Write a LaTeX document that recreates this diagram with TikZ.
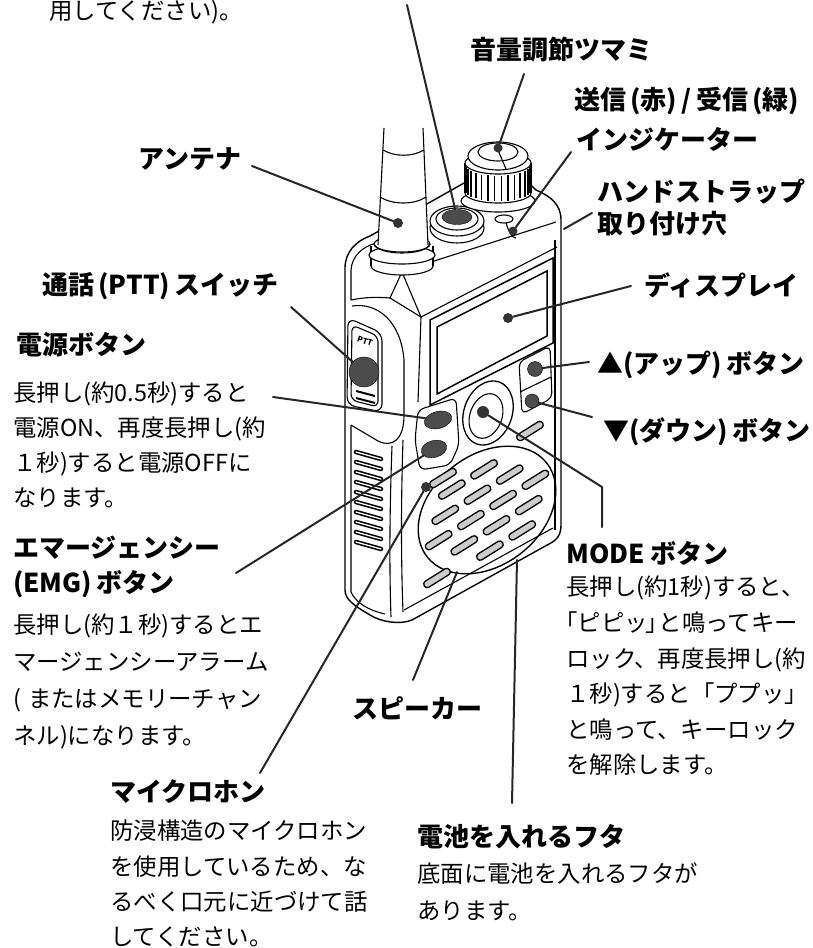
\documentclass[tikz,border=0pt]{standalone}
\usepackage{fontspec}
\setmainfont{Noto Sans CJK JP}
\usetikzlibrary{shapes.geometric}

\tikzset{
  lbl/.style={anchor=north west, inner sep=0pt, align=left,
    font=\fontsize{26}{35}\selectfont\bfseries},
  note/.style={anchor=north west, inner sep=0pt, align=left,
    font=\fontsize{23.4}{36.5}\selectfont},
  lead/.style={line width=2pt, black!85, line cap=round},
  tipdot/.style={circle, fill=black!80, inner sep=0pt, minimum size=10pt},
  btn/.style={fill=black!70, draw=black, inner sep=0pt},
  outl/.style={draw=black, line width=1.1pt},
  part/.style={draw=black, line width=1.1pt, fill=white},
  grilleslot/.style={draw=black, line width=1.3pt, fill=black!20, rounded corners=3.3pt},
  sideslot/.style={line width=1.6pt, double=white, double distance=1.3pt, line cap=round},
}

\begin{document}
\begin{tikzpicture}[x=1pt, y=-1pt]
    \useasboundingbox (0,0) rectangle (812,948);
    % radio body outline
    \draw[outl, line width=1.4pt] (345,590) -- (345,268)
       .. controls (345,252) and (356,241) .. (370,236)
       -- (505,160) -- (536,190)
       .. controls (550,196) and (561,204) .. (561,220)
       -- (561,525)
       .. controls (561,535) and (557,540) .. (549,544)
       -- (412,620)
       .. controls (400,625) and (381,622) .. (370,615)
       .. controls (355,606) and (345,600) .. (345,590) -- cycle;
    \draw[outl] (351,300) -- (351,270) .. controls (352,256) and (362,247) .. (376,243);
    \draw[outl] (351,425) -- (351,592) .. controls (356,603) and (368,610) .. (385,614);
    \draw[outl] (555,240) -- (555,530);
    \draw[outl] (404,610) -- (553,528);
    \draw[outl] (392,446) .. controls (390,500) and (389,560) .. (391,617);
    \draw[outl] (403,440) .. controls (401,500) and (401,560) .. (403,612);
    % top face and bevel
    \draw[outl] (431,262) -- (556,222);
    \draw[outl] (402,272) -- (390,298) -- (421,317) -- cycle;
    \draw[outl] (351,300) .. controls (365,297) and (378,297) .. (390,298);
    \draw[outl] (421,317) -- (557,247);
    \draw[outl] (421,317) -- (418,402);
    % PTT side
    \draw[outl] (352,306) .. controls (378,302) and (401,322) .. (404,360)
       -- (404,415) .. controls (404,440) and (392,448) .. (378,441) -- (351,425);
    \draw[part, rounded corners=8pt] (348,318) -- (382,333) -- (382,412) -- (347,405) -- cycle;
    \draw[outl, rounded corners=6pt] (352,325) -- (378,336) -- (378,407) -- (351,400) -- cycle;
    \node[font=\fontsize{8}{8}\selectfont\bfseries, rotate=-18, inner sep=0pt] (pttTxt) at (365,341) {PTT};
    \node[btn, circle, minimum size=30pt] (pttDial) at (364,372) {};
    \draw[line width=2pt] (356,391) -- (375,396) (356,398) -- (375,403);
    \foreach \i in {0,...,9}
       \draw[sideslot] (356,{452+10*\i}) -- (381,{459+10*\i});
    % antenna
    \draw[part] (402,266) ellipse [x radius=31, y radius=9];
    \fill[white] (371,246) rectangle (433,266);
    \draw[outl] (371,246) -- (371,266) (433,246) -- (433,266);
    \draw[part] (402,255) ellipse [x radius=33, y radius=9];
    \draw[part] (402,244) ellipse [x radius=28, y radius=8];
    \fill[white] (384,128) -- (378,245) -- (428,245) -- (423,128) -- cycle;
    \draw[outl] (384,128) -- (378,245) (423,128) -- (428,245);
    \draw[outl] (383,150) .. controls (395,157) and (412,157) .. (424,150);
    \draw[outl] (380,197) .. controls (393,205) and (414,205) .. (426,197);
    \draw[outl] (374,244) .. controls (378,256) and (426,256) .. (430,244);
    \node[tipdot] (antDot) at (398,223) {};
    % jack
    \draw[part] (457,228) ellipse [x radius=27, y radius=15];
    \draw[part] (457,221) ellipse [x radius=27, y radius=15];
    \draw[outl] (457,219) ellipse [x radius=21, y radius=11];
    \node[btn, ellipse, minimum width=30pt, minimum height=15pt] (jackDot) at (457,217) {};
    % volume knob
    \draw[part] (498,201) ellipse [x radius=37, y radius=11];
    \draw[part] (498,193) ellipse [x radius=33, y radius=10];
    \fill[white] (465,163) rectangle (531,193);
    \draw[outl] (465,163) -- (465,193) (531,163) -- (531,193);
    \foreach \a in {12,24,...,168}
       \draw[line width=1.8pt] ({498+33*cos(\a)},{165+11*sin(\a)}) -- ({498+33*cos(\a)},{191+10*sin(\a)});
    \draw[part] (498,163) ellipse [x radius=33, y radius=11];
    \draw[part] (498,156) ellipse [x radius=30, y radius=14];
    \draw[outl] (498,152) ellipse [x radius=20, y radius=9];
    \draw[outl] (498,150) -- (506,169);
    \node[tipdot, minimum size=9pt] (knobDot) at (498,148) {};
    % indicator
    \draw[part] (504,219) ellipse [x radius=9, y radius=4];
    \draw[outl] (506,223) .. controls (509,232) and (512,238) .. (516,238);
    \node[tipdot, minimum size=9pt] (ledDot) at (513,231) {};
    % display
    \draw[outl, line width=1.5pt] (430,320) -- (553,258) -- (553,343) -- (430,405) -- cycle;
    \draw[outl, line width=1.5pt] (437,327) -- (547,271) -- (547,336) -- (437,394) -- cycle;
    \node[tipdot] (dispDot) at (508,318) {};
    % up / down keys
    \draw[outl, rounded corners=5pt] (519,362) -- (550,346) -- (552,398) -- (522,414) -- cycle;
    \draw[outl] (520,392) -- (551,377);
    \node[btn, circle, minimum size=15pt] (upBtn) at (535,369) {};
    \node[btn, circle, minimum size=14pt] (dnBtn) at (532,401) {};
    % MODE key
    \draw[outl, line width=1.3pt, rotate around={-20:(488,413)}] (488,413) ellipse [x radius=24, y radius=33];
    \draw[outl, rotate around={-20:(486,416)}] (486,416) ellipse [x radius=16, y radius=23];
    \node[tipdot, minimum size=12pt] (modeDot) at (483,412) {};
    % power / EMG keys
    \draw[part, rounded corners=6pt] (418,410) -- (456,398) -- (459,445) -- (450,465) -- (420,470) -- (415,440) -- cycle;
    \node[btn, ellipse, minimum width=28pt, minimum height=17pt, rotate=15] (pwrBtn) at (438,420) {};
    \node[btn, ellipse, minimum width=26pt, minimum height=17pt, rotate=15] (emgBtn) at (434,449) {};
    % speaker grille
    \draw[outl, line width=1.4pt, rotate around={38:(487,510)}] (487,510) ellipse [x radius=76, y radius=55];
    \begin{scope}[shift={(487,510)}, rotate=32]
       \foreach \sx/\sy in {-19/-36, 19/-36, -38/-18, 0/-18, 38/-18, -57/0, -19/0, 19/0, 57/0,
                            -38/18, 0/18, 38/18, -19/36, 19/36}
          \draw[grilleslot] ({\sx-15},{\sy-3.5}) rectangle ({\sx+15},{\sy+3.5});
    \end{scope}
    \foreach \px/\py in {530/431, 443/478, 437/578}{
       \begin{scope}[shift={(\px,\py)}, rotate=32]
          \draw[grilleslot] (-15,-3.5) rectangle (15,3.5);
       \end{scope}}
    \node[tipdot] (micDot) at (426,487) {};

    % labels
    \node[note] (topTxt) at (49,0.5) {用してください)。};
    \node[lbl] (lblKnob) at (470,37) {音量調節ツマミ};
    \node[lbl] (lblLed) at (574,87) {送信\,(赤)\,/\,受信\,(緑)};
    \node[lbl] (lblLed2) at (576,127) {インジケーター};
    \node[lbl] (lblAnt) at (138,147) {アンテナ};
    \node[lbl] (lblStrap) at (597,179) {ハンドストラップ};
    \node[lbl] (lblStrap2) at (597,211) {取り付け穴};
    \node[lbl] (lblPtt) at (42,272) {通話\,(PTT)\,スイッチ};
    \node[lbl] (lblDisp) at (644,272) {ディスプレイ};
    \node[lbl] (lblPwr) at (16,332) {電源ボタン};
    \node[note, font=\fontsize{23.4}{35}\selectfont] (txtPwr) at (13,382)
       {長押し(約0.5秒)すると\\電源ON、再度長押し(約\\１秒)すると電源OFFに\\なります。};
    \node[lbl] (lblUp) at (597,351) {▲(アップ)\,ボタン};
    \node[lbl] (lblDn) at (603,417) {▼(ダウン)\,ボタン};
    \node[lbl] (lblMode) at (566,541) {MODE ボタン};
    \node[note, font=\fontsize{23.4}{35.6}\selectfont] (txtMode) at (566,576)
       {長押し(約1秒)すると、\\\hspace*{-0.5em}「ピピッ\hspace{-0.1em}」\hspace{-0.45em}と鳴ってキー\\ロック、再度長押し(約\\１秒)すると「ププッ」\\と鳴って、キーロック\\を解除します。};
    \node[lbl] (lblEmg) at (13,536) {エマージェンシー\\(EMG)\,ボタン};
    \node[note, font=\fontsize{23.4}{37}\selectfont] (txtEmg) at (13,614)
       {長押し(約１秒)するとエ\\マージェンシーアラーム\\(\hspace{0.3em}またはメモリーチャン\\ネル)になります。};
    \node[lbl] (lblSpk) at (352,696) {スピーカー};
    \node[lbl] (lblMic) at (110,779) {マイクロホン};
    \node[note, font=\fontsize{23.4}{35.2}\selectfont] (txtMic) at (110,820)
       {防浸構造のマイクロホン\\を使用しているため、な\\るべく口元に近づけて話\\してください。};
    \node[lbl] (lblBat) at (417,824) {電池を入れるフタ};
    \node[note, font=\fontsize{23.4}{37}\selectfont] (txtBat) at (417,862)
       {底面に電池を入れるフタが\\あります。};

    % leader lines
    \coordinate (jackS) at (407,5);
    \coordinate (knobS) at (524,74);
    \coordinate (ledS) at (571,152);
    \coordinate (antS) at (252,166);
    \coordinate (strapS) at (592,213);
    \coordinate (strapE) at (564,229);
    \coordinate (pttS) at (291,307);
    \coordinate (dispS) at (631,286);
    \coordinate (pwrS) at (273,397);
    \coordinate (upS) at (589,362);
    \coordinate (dnS) at (592,417);
    \coordinate (modeBend) at (602,487);
    \coordinate (modeS) at (602,527);
    \coordinate (emgS) at (236,573);
    \coordinate (micS) at (260,773);
    \coordinate (spkS) at (413,680);
    \coordinate (spkE) at (457,572);
    \coordinate (batS) at (512,803);
    \coordinate (batE) at (517,560);
    \draw[lead] (jackS) -- (jackDot);
    \draw[lead] (knobS) -- (knobDot);
    \draw[lead] (ledS) -- (ledDot);
    \draw[lead] (antS) -- (antDot);
    \draw[lead] (strapS) -- (strapE);
    \draw[lead] (pttS) -- (pttDial);
    \draw[lead] (dispS) -- (dispDot);
    \draw[lead] (pwrS) -- (pwrBtn);
    \draw[lead] (upS) -- (upBtn);
    \draw[lead] (dnS) -- (dnBtn);
    \draw[lead] (modeDot) -- (modeBend) -- (modeS);
    \draw[lead] (emgS) -- (emgBtn);
    \draw[lead] (micS) -- (micDot);
    \draw[lead] (spkS) -- (spkE);
    \draw[lead] (batS) -- (batE);
\end{tikzpicture}
\end{document}
